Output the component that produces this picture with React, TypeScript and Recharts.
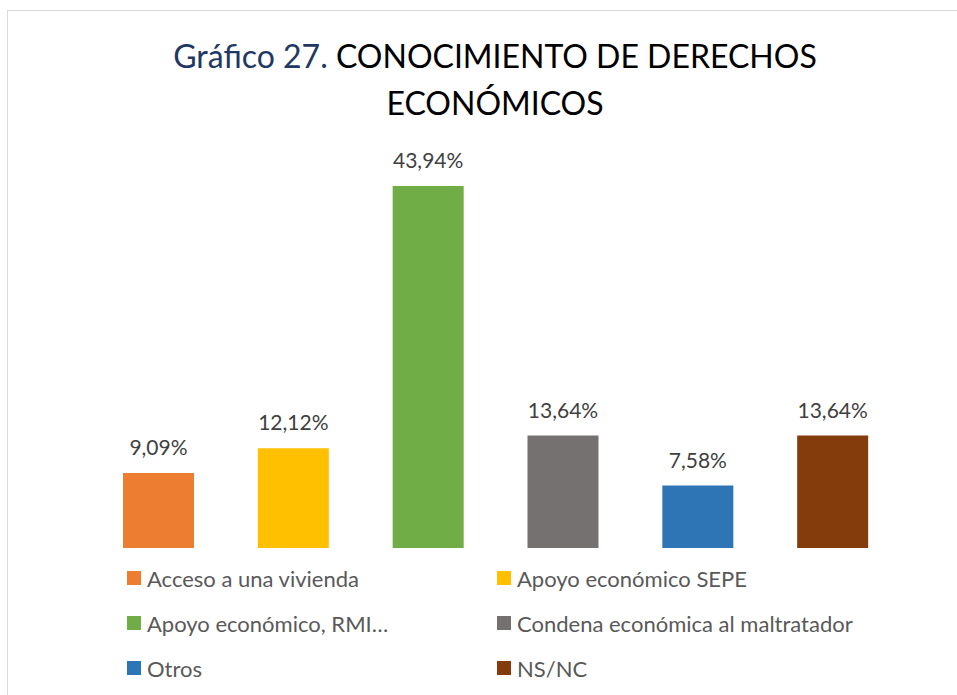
import { Bar, BarChart, Cell, LabelList, XAxis, YAxis } from "recharts"

const categories = [
  "Acceso a una vivienda",
  "Apoyo económico SEPE",
  "Apoyo económico, RMI…",
  "Condena económica al maltratador",
  "Otros",
  "NS/NC",
]
const values = [9.09, 12.12, 43.94, 13.64, 7.58, 13.64]
const colors = ["#ED7D31", "#FFC000", "#70AD47", "#767171", "#2E75B6", "#843C0C"]

const data = categories.map((name, i) => ({ name, value: values[i] }))

const FONT = "Lato, 'Open Sans', sans-serif"

const fmt = (v: number) => v.toFixed(2).replace(".", ",") + "%"

function LegendBox() {
  return (
    <div style={{ position: "absolute", left: 0, top: 0, width: 957, height: 695, pointerEvents: "none" }}>
      {categories.map((name, i) => {
        const col = i % 2
        const row = Math.floor(i / 2)
        return (
          <div
            key={name}
            style={{
              position: "absolute",
              left: col === 0 ? 127 : 497,
              top: 578 + row * 45 - 13,
              height: 26,
              display: "flex",
              alignItems: "center",
              fontFamily: FONT,
              fontSize: 22,
              color: "#595959",
              whiteSpace: "nowrap",
            }}
          >
            <span style={{ width: 14, height: 14, background: colors[i], marginRight: 6, display: "inline-block" }} />
            {name}
          </div>
        )
      })}
    </div>
  )
}

export default function App() {
  return (
    <div style={{ position: "absolute", left: 0, top: 0, width: 957, height: 695, background: "#fff", overflow: "hidden" }}>
      <div
        style={{
          position: "absolute",
          left: 7,
          top: 10,
          width: 1000,
          height: 800,
          border: "1.5px solid #d9d9d9",
        }}
      />
      <svg width={957} height={130} style={{ position: "absolute", left: 0, top: 0 }}>
        <text x={495} y={68} textAnchor="middle" fontFamily={FONT} fontSize={32}>
          <tspan fill="#1F3864">Gráfico 27. </tspan>
          <tspan fill="#000000">CONOCIMIENTO DE DERECHOS</tspan>
        </text>
        <text x={495} y={115} textAnchor="middle" fontFamily={FONT} fontSize={32} fill="#000000">
          ECONÓMICOS
        </text>
      </svg>
      <div style={{ position: "absolute", left: 0, top: 0 }}>
        <BarChart width={957} height={695} data={data} margin={{ top: 136, right: 57, bottom: 147, left: 91 }}>
          <XAxis dataKey="name" hide />
          <YAxis hide domain={[0, 50]} />
          <Bar dataKey="value" barSize={71} isAnimationActive={false}>
            {data.map((d, i) => (
              <Cell key={d.name} fill={colors[i]} />
            ))}
            <LabelList
              dataKey="value"
              position="top"
              offset={18}
              formatter={(v: any) => fmt(Number(v))}
              fill="#404040"
              fontSize={21}
              fontFamily={FONT}
            />
          </Bar>
        </BarChart>
      </div>
      <LegendBox />
    </div>
  )
}
